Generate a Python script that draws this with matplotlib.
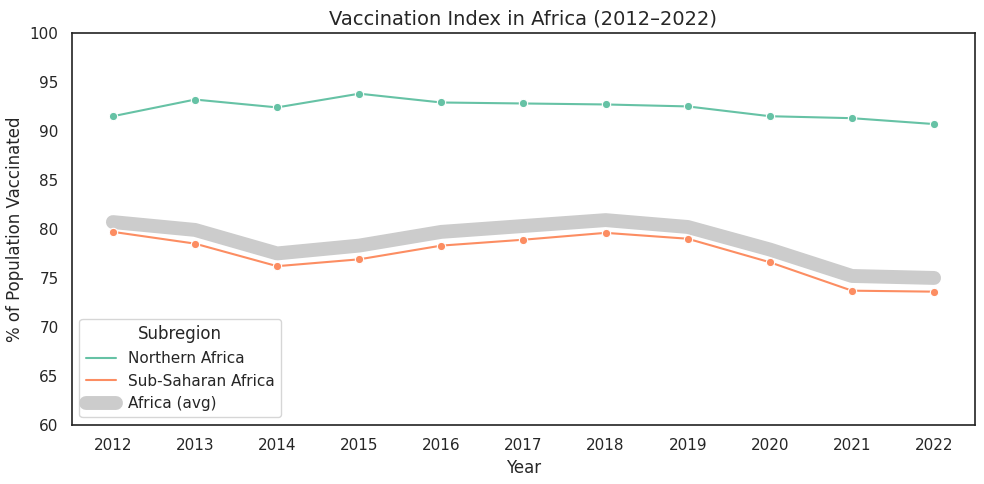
import matplotlib
matplotlib.use("Agg")
import matplotlib.pyplot as plt
import seaborn as sns

years = list(range(2012, 2023))
northern = [91.5, 93.2, 92.4, 93.8, 92.9, 92.8, 92.7, 92.5, 91.5, 91.3, 90.7]
sub_saharan = [79.7, 78.5, 76.2, 76.9, 78.3, 78.9, 79.6, 79.0, 76.6, 73.7, 73.6]
africa_avg = [80.7, 79.9, 77.5, 78.3, 79.7, 80.3, 80.9, 80.2, 77.9, 75.2, 75.0]

sns.set_theme(style="white")
colors = sns.color_palette("Set2")

fig, ax = plt.subplots(figsize=(9.84, 4.84), dpi=100)
ax.plot(years, africa_avg, color="#cccccc", linewidth=10, solid_capstyle="round",
        label="Africa (avg)", zorder=1)
ax.plot(years, northern, color=colors[0], marker="o", markersize=6,
        markeredgecolor="white", markeredgewidth=0.8, label="Northern Africa", zorder=2)
ax.plot(years, sub_saharan, color=colors[1], marker="o", markersize=6,
        markeredgecolor="white", markeredgewidth=0.8, label="Sub-Saharan Africa", zorder=2)

ax.set_ylim(60, 100)
ax.set_xticks(years)
ax.set_xlim(2011.5, 2022.5)
ax.tick_params(labelsize=11)
ax.set_title("Vaccination Index in Africa (2012\u20132022)", fontsize=14)
ax.set_xlabel("Year", fontsize=12)
ax.set_ylabel("% of Population Vaccinated", fontsize=12)
for s in ax.spines.values():
    s.set_color("#222222")
    s.set_linewidth(1.2)

h, l = ax.get_legend_handles_labels()
order = [1, 2, 0]
leg = ax.legend([h[i] for i in order], [l[i] for i in order], title="Subregion",
                loc="lower left", fontsize=11, title_fontsize=12)
for line in leg.get_lines()[:2]:
    line.set_marker("")

fig.subplots_adjust(left=0.073, right=0.991, top=0.932, bottom=0.122)
plt.savefig("out.png", dpi=100)
